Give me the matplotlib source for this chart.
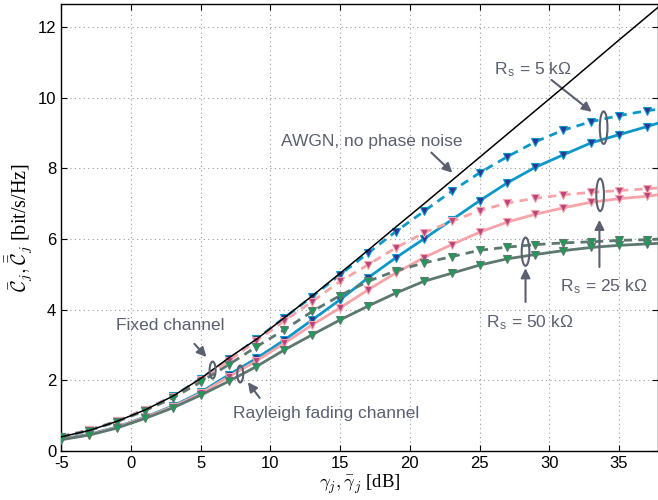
import numpy as np
import matplotlib
matplotlib.use("Agg")
import matplotlib.pyplot as plt
from matplotlib.patches import Ellipse

plt.rcParams['font.family'] = ['Liberation Sans', 'DejaVu Sans']
plt.rcParams['mathtext.fontset'] = 'cm'
plt.rcParams['axes.unicode_minus'] = False

# SNR points (markers every 2 dB, last point only for the line end)
snr = [-5, -3, -1, 1, 3, 5, 7, 9, 11, 13, 15, 17, 19, 21, 23, 25, 27, 29, 31, 33, 35, 37, 38]

awgn = [0.40, 0.58, 0.84, 1.16, 1.55, 2.05, 2.63, 3.16, 3.77, 4.39, 5.03, 5.68, 6.34,
        6.99, 7.65, 8.31, 8.97, 9.63, 10.29, 10.96, 11.63, 12.29, 12.62]

fixed_5 = [0.41, 0.59, 0.85, 1.17, 1.55, 2.04, 2.59, 3.17, 3.77, 4.37, 4.99, 5.60, 6.21,
           6.78, 7.35, 7.87, 8.33, 8.75, 9.08, 9.32, 9.49, 9.63, 9.68]
rayl_5 = [0.34, 0.47, 0.68, 0.96, 1.27, 1.66, 2.15, 2.62, 3.14, 3.71, 4.28, 4.90, 5.47,
          6.00, 6.54, 7.08, 7.59, 8.03, 8.38, 8.72, 8.95, 9.18, 9.30]
fixed_25 = [0.41, 0.59, 0.85, 1.17, 1.54, 2.02, 2.55, 3.12, 3.68, 4.23, 4.80, 5.27, 5.75,
            6.17, 6.50, 6.80, 7.02, 7.15, 7.25, 7.32, 7.37, 7.42, 7.45]
rayl_25 = [0.33, 0.46, 0.67, 0.95, 1.25, 1.63, 2.10, 2.55, 3.05, 3.57, 4.05, 4.56, 5.04,
           5.47, 5.84, 6.19, 6.48, 6.70, 6.88, 7.04, 7.14, 7.21, 7.26]
fixed_50 = [0.40, 0.58, 0.83, 1.14, 1.50, 1.95, 2.44, 2.95, 3.43, 3.95, 4.40, 4.80, 5.10,
            5.32, 5.50, 5.68, 5.77, 5.84, 5.89, 5.92, 5.96, 5.98, 6.00]
rayl_50 = [0.32, 0.45, 0.65, 0.92, 1.22, 1.58, 1.97, 2.39, 2.86, 3.29, 3.71, 4.10, 4.47,
           4.80, 5.03, 5.26, 5.44, 5.56, 5.67, 5.76, 5.82, 5.86, 5.88]

fig = plt.figure(figsize=(6.58, 5.0), dpi=100)
ax = fig.add_axes([0.093, 0.098, 0.907, 0.894])

ax.plot(snr, awgn, color='black', lw=1.1, zorder=5)

curves = [
    (fixed_5, rayl_5, '#0b98c8', '#2b3494'),
    (fixed_25, rayl_25, '#f7a3a8', '#b5457f'),
    (fixed_50, rayl_50, '#5c7870', '#1a9e55'),
]
mk = slice(0, -1)
for fx, ry, lc, mc in curves:
    ax.plot(snr, fx, ls=(0, (3, 2.2)), color=lc, lw=2, marker='v', ms=6,
            mfc=mc, mec=lc, mew=0.8, markevery=mk, zorder=3)
    ax.plot(snr, ry, ls='-', color=lc, lw=2, marker='v', ms=6,
            mfc=mc, mec=lc, mew=0.8, markevery=mk, zorder=3)

ax.set_xlim(-5, 37.8)
ax.set_ylim(0, 12.65)
ax.set_xticks([-5, 0, 5, 10, 15, 20, 25, 30, 35])
ax.set_yticks([0, 2, 4, 6, 8, 10, 12])
ax.tick_params(direction='in', labelsize=12, top=True, right=True, length=4)
ax.grid(True, ls=(0, (1, 3)), color='#999999', lw=0.8)
for s in ax.spines.values():
    s.set_linewidth(1.0)

ax.set_xlabel(r'$\gamma_j, \bar{\gamma}_j$ [dB]', fontsize=13.5, labelpad=1)
ax.set_ylabel(r'$\bar{\mathcal{C}}_j, \bar{\bar{\mathcal{C}}}_j$ [bit/s/Hz]', fontsize=14.5,
              labelpad=1)
ax.xaxis.label.set_fontfamily('Liberation Serif')
ax.yaxis.label.set_fontfamily('Liberation Serif')

tc = '#5a6070'
arr = dict(arrowstyle='-|>', color=tc, lw=1.5, mutation_scale=14)
fs = 12.5

ax.text(17.3, 8.75, 'AWGN, no phase noise', color=tc, fontsize=fs, ha='center', va='center')
ax.annotate('', xy=(23.2, 7.82), xytext=(21.4, 8.5), arrowprops=arr)

ax.text(28.8, 10.8, r'R$_\mathregular{s}$ = 5 k$\mathregular{\Omega}$', color=tc, fontsize=fs,
        ha='center', va='center')
ax.annotate('', xy=(33.2, 9.55), xytext=(30.0, 10.55), arrowprops=arr)
ax.add_patch(Ellipse((33.9, 9.15), 0.55, 0.92, fill=False, ec=tc, lw=1.5, zorder=6))

ax.text(33.9, 4.65, r'R$_\mathregular{s}$ = 25 k$\mathregular{\Omega}$', color=tc, fontsize=fs,
        ha='center', va='center')
ax.annotate('', xy=(33.6, 6.62), xytext=(33.6, 5.13), arrowprops=arr)
ax.add_patch(Ellipse((33.65, 7.25), 0.55, 0.92, fill=False, ec=tc, lw=1.5, zorder=6))

ax.text(28.6, 3.63, r'R$_\mathregular{s}$ = 50 k$\mathregular{\Omega}$', color=tc, fontsize=fs,
        ha='center', va='center')
ax.annotate('', xy=(28.3, 5.25), xytext=(28.3, 4.14), arrowprops=arr)
ax.add_patch(Ellipse((28.3, 5.64), 0.55, 0.8, fill=False, ec=tc, lw=1.5, zorder=6))

ax.text(2.85, 3.54, 'Fixed channel', color=tc, fontsize=fs, ha='center', va='center')
ax.annotate('', xy=(5.55, 2.6), xytext=(4.42, 3.09), arrowprops=arr)
ax.add_patch(Ellipse((5.86, 2.29), 0.43, 0.48, fill=False, ec=tc, lw=1.5, zorder=6))

ax.text(13.97, 1.05, 'Rayleigh fading channel', color=tc, fontsize=fs, ha='center', va='center')
ax.annotate('', xy=(8.27, 2.01), xytext=(9.35, 1.44), arrowprops=arr)
ax.add_patch(Ellipse((7.84, 2.18), 0.43, 0.48, fill=False, ec=tc, lw=1.5, zorder=6))

fig.savefig('out.png', dpi=100)
